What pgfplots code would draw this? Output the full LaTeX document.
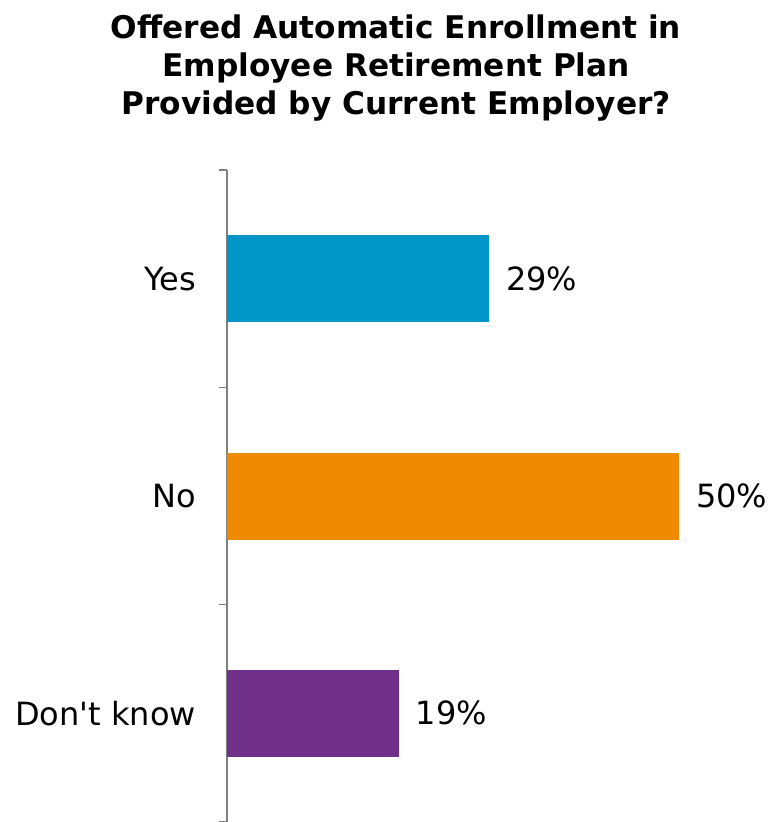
\documentclass[border=0pt]{standalone}
\usepackage{pgfplots}
\pgfplotsset{compat=1.18}
\usepackage{fontspec}
\setmainfont{DejaVu Sans}
\definecolor{cyes}{RGB}{0,150,200}
\definecolor{cno}{RGB}{240,138,0}
\definecolor{cdk}{RGB}{112,48,138}
\begin{document}
\begin{tikzpicture}
\begin{axis}[name=ax, scale only axis, width=226pt, height=326pt,
  xmin=0, xmax=50, ymin=-0.5, ymax=2.5, y dir=reverse,
  axis x line=none, axis y line*=left,
  axis line style={draw=gray, line width=0.6pt},
  ytick={0,1,2}, yticklabels={Yes,No,Don\textquotesingle t know},
  major tick length=0pt,
  extra y ticks={-0.5,0.5,1.5,2.5}, extra y tick labels={},
  extra y tick style={major tick length=4pt, tick align=outside, tick style={draw=gray, line width=0.6pt}},
  yticklabel style={font=\fontsize{16}{19}\selectfont, xshift=-12pt},
  clip=false,
  /pgf/number format/assume math mode=true,
  title={Offered Automatic Enrollment in\\Employee Retirement Plan\\Provided by Current Employer?},
  title style={align=center, font=\bfseries\fontsize{15.6}{19}\selectfont, at={(0.374,1)}, anchor=south, yshift=15pt},
  nodes near coords={\pgfmathprintnumber{\pgfplotspointmeta}\%},
  nodes near coords style={font=\fontsize{16}{19}\selectfont, anchor=west, xshift=5pt},
  point meta=x,
]
\addplot[xbar, bar shift=0pt, bar width=43.5pt, fill=cyes, draw=none] coordinates {(29,0)};
\addplot[xbar, bar shift=0pt, bar width=43.5pt, fill=cno, draw=none] coordinates {(50,1)};
\addplot[xbar, bar shift=0pt, bar width=43.5pt, fill=cdk, draw=none] coordinates {(19,2)};
\end{axis}
\path (ax.north west) ++(-113.5pt,85pt) coordinate (tl);
\path (ax.south west) ++(272pt,0pt) coordinate (br);
\pgfresetboundingbox
\path[use as bounding box] (tl) rectangle (br);
\end{tikzpicture}
\end{document}
